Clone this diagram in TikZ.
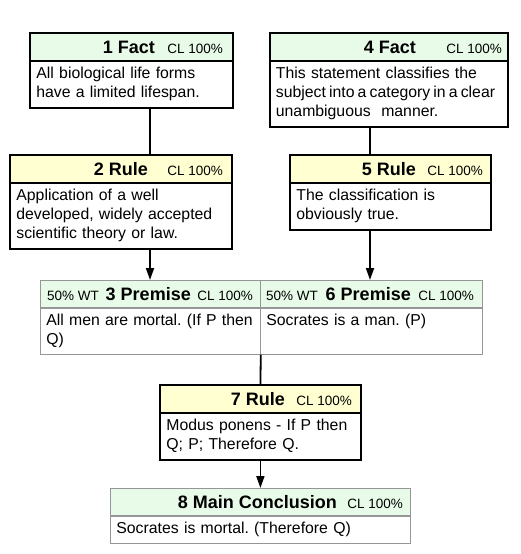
\documentclass[tikz,border=0pt]{standalone}
\usepackage{fontspec}
\setmainfont{Liberation Sans}
\usetikzlibrary{arrows.meta,positioning}

\definecolor{factgreen}{RGB}{232,251,232}
\definecolor{ruleyellow}{RGB}{255,255,210}
\definecolor{boxgray}{RGB}{150,150,150}

\newcommand{\bodyfont}{\fontsize{15.8}{19}\selectfont}
\newcommand{\titlefont}{\fontsize{18}{20}\selectfont\bfseries}
\newcommand{\clfont}{\fontsize{13.5}{15}\selectfont}
\frenchspacing

\begin{document}
\begin{tikzpicture}[x=1pt,y=-1pt]

\tikzstyle{head}=[rectangle, anchor=north west, minimum height=27pt, inner sep=0pt, line width=0.8pt]
\tikzstyle{facthead}=[head, fill=factgreen, draw=black]
\tikzstyle{rulehead}=[head, fill=ruleyellow, draw=black]
\tikzstyle{grayhead}=[head, fill=factgreen, draw=boxgray]
\tikzstyle{body}=[rectangle, anchor=north west, draw=black, fill=white, line width=0.8pt, inner xsep=6pt, inner ysep=6pt, align=left, font=\bodyfont, text height=11.5pt]
\tikzstyle{graybody}=[body, draw=boxgray]
\tikzstyle{title}=[anchor=base east, inner sep=0pt, font=\titlefont]
\tikzstyle{cl}=[anchor=base east, inner sep=0pt, font=\clfont]
\tikzstyle{wt}=[anchor=base west, inner sep=0pt, font=\clfont]
\tikzstyle{frame}=[draw=black, line width=1.8pt]
\tikzstyle{grayframe}=[draw=boxgray, line width=0.9pt]
\tikzstyle{link}=[line width=1.8pt]
\tikzstyle{arrow}=[line width=1.8pt, -{Triangle[length=12pt,width=8pt]}]

\useasboundingbox (0,0) rectangle (520,554);

\coordinate (colL) at (150,0);
\coordinate (colR) at (370,0);

% 1 Fact
\node (h1) [facthead, minimum width=202pt] at (30,33) {};
\node (b1) [body, text width=190pt, text depth=22.5pt] at (h1.south west) {All biological life forms\\ have a limited lifespan.};
\node (t1) [title] at (155,53) {1 Fact};
\node (c1) [cl] at (223,53) {CL 100\%};
\draw [frame] (h1.north west) rectangle (b1.south east);

% 4 Fact
\node (h4) [facthead, minimum width=237pt] at (270,33) {};
\node (b4) [body, inner xsep=5.5pt, text width=226pt, text depth=41.5pt] at (h4.south west) {This statement classifies the\\ \mbox{\spaceskip=0.2em\relax subject into a category in a clear}\\ unambiguous\ \ manner.};
\node (t4) [title] at (416,53) {4 Fact};
\node (c4) [cl] at (502,53) {CL 100\%};
\draw [frame] (h4.north west) rectangle (b4.south east);

% 2 Rule
\node (h2) [rulehead, minimum width=221pt] at (10,155) {};
\node (b2) [body, text width=209pt, text depth=41.5pt] at (h2.south west) {Application of a well\\ developed, widely accepted\\ scientific theory or law.};
\node (t2) [title] at (148,175) {2 Rule};
\node (c2) [cl] at (223,175) {CL 100\%};
\draw [frame] (h2.north west) rectangle (b2.south east);

% 5 Rule
\node (h5) [rulehead, minimum width=200pt] at (290,155) {};
\node (b5) [body, text width=188pt, text depth=22.5pt] at (h5.south west) {The classification is\\ obviously true.};
\node (t5) [title] at (416,175) {5 Rule};
\node (c5) [cl] at (483,175) {CL 100\%};
\draw [frame] (h5.north west) rectangle (b5.south east);

% 3 and 6 Premise
\node (h3) [grayhead, minimum width=220pt] at (40,280) {};
\node (b3) [graybody, text width=208pt, text depth=22.5pt] at (h3.south west) {All men are mortal. (If P then\\ Q)};
\node (w3) [wt] at (47,300) {50\% WT};
\node (t3) [title] at (191,300) {3 Premise};
\node (c3) [cl] at (253,300) {CL 100\%};

\node (h6) [grayhead, minimum width=222pt] at (260,280) {};
\node (b6) [graybody, text width=210pt, text depth=22.5pt] at (h6.south west) {Socrates is a man. (P)};
\node (w6) [wt] at (266,300) {50\% WT};
\node (t6) [title] at (411,300) {6 Premise};
\node (c6) [cl] at (474,300) {CL 100\%};
\draw [grayframe] (h3.north west) rectangle (b6.south east);

% 7 Rule
\node (h7) [rulehead, minimum width=200pt] at (160,385) {};
\node (b7) [body, text width=188pt, text depth=22.5pt] at (h7.south west) {Modus ponens - If P then\\ Q; P; Therefore Q.};
\node (t7) [title] at (285,405) {7 Rule};
\node (c7) [cl] at (352,405) {CL 100\%};
\draw [frame] (h7.north west) rectangle (b7.south east);

% 8 Main Conclusion
\node (h8) [grayhead, minimum width=300pt] at (110,488) {};
\node (b8) [graybody, text width=288pt, text depth=3.5pt] at (h8.south west) {Socrates is mortal. (Therefore Q)};
\node (t8) [title] at (337,508) {8 Main Conclusion};
\node (c8) [cl] at (403,508) {CL 100\%};
\draw [grayframe] (h8.north west) rectangle (b8.south east);

% connectors
\draw [link] (b1.south -| colL) -- (h2.north -| colL);
\draw [arrow] (b2.south -| colL) -- (h3.north -| colL);
\draw [link] (b4.south -| colR) -- (h5.north -| colR);
\draw [arrow] (b5.south -| colR) -- (h6.north -| colR);
\draw [link] (b3.south east) -- (h7.north);
\draw [arrow] (b7.south) -- (h8.north);

\end{tikzpicture}
\end{document}
